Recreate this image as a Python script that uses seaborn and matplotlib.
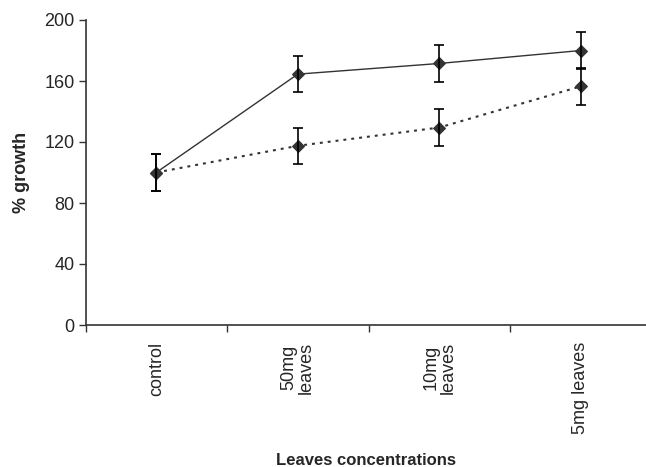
import pandas as pd
import matplotlib.pyplot as plt
import seaborn as sns

categories = ["control", "50mg\nleaves", "10mg\nleaves", "5mg leaves"]
solid_values = [100, 164.5, 171.5, 180]
dotted_values = [100, 117.5, 129.5, 156.5]
solid_err = [12, 12, 12, 12]
dotted_err = [12, 12, 12, 12]

sns.set_style("white")
plt.rcParams['font.family'] = ['Liberation Sans', 'DejaVu Sans']

pos = list(range(len(categories)))
df = pd.DataFrame({
    "pos": pos + pos,
    "value": solid_values + dotted_values,
    "series": ["a"] * 4 + ["b"] * 4,
})

fig = plt.figure(figsize=(6.46, 4.67), dpi=100)
ax = fig.add_axes([85.5 / 646, 1 - 325 / 467, 1 - 85.5 / 646, 305 / 467])

col = "#333333"
sns.lineplot(data=df[df.series == "a"], x="pos", y="value", ax=ax, color=col,
             linewidth=1.0, marker="D", markersize=6.5, markeredgecolor=col)
sns.lineplot(data=df[df.series == "b"], x="pos", y="value", ax=ax, color=col,
             linewidth=1.5, linestyle=(0, (1.4, 2.4)), marker="D", markersize=6.5,
             markeredgecolor=col)
ax.errorbar(pos, solid_values, yerr=solid_err, fmt="none", ecolor="black",
            elinewidth=1.2, capsize=3.3, capthick=1.2)
ax.errorbar(pos, dotted_values, yerr=dotted_err, fmt="none", ecolor="black",
            elinewidth=1.2, capsize=3.3, capthick=1.2)

ax.set_xlim(-0.5, 3.46)
ax.set_ylim(0, 200)
ax.set_yticks([0, 40, 80, 120, 160, 200])
ax.set_xticks([-0.5, 0.5, 1.5, 2.5])
ax.set_xticklabels([])
ax.set_xticks(pos, minor=True)
ax.set_xticklabels(categories, minor=True, rotation=90, va="top", ha="center",
                   fontsize=13, linespacing=1.0)
ax.tick_params(axis="x", which="minor", length=0, pad=12)
ax.tick_params(axis="x", which="major", direction="out", length=5, width=1, color=col)
ax.tick_params(axis="y", direction="out", length=5, width=1, color=col, labelsize=13, pad=3)
ax.yaxis.set_ticks_position("left")
ax.xaxis.set_ticks_position("bottom")

for s in ["top", "right"]:
    ax.spines[s].set_visible(False)
for s in ["left", "bottom"]:
    ax.spines[s].set_color(col)
    ax.spines[s].set_linewidth(1.2)

ax.set_ylabel("% growth", fontsize=13, fontweight="bold", labelpad=10)
ax.set_xlabel("Leaves concentrations", fontsize=12, fontweight="bold", labelpad=14)

fig.savefig("out.png", dpi=100)
